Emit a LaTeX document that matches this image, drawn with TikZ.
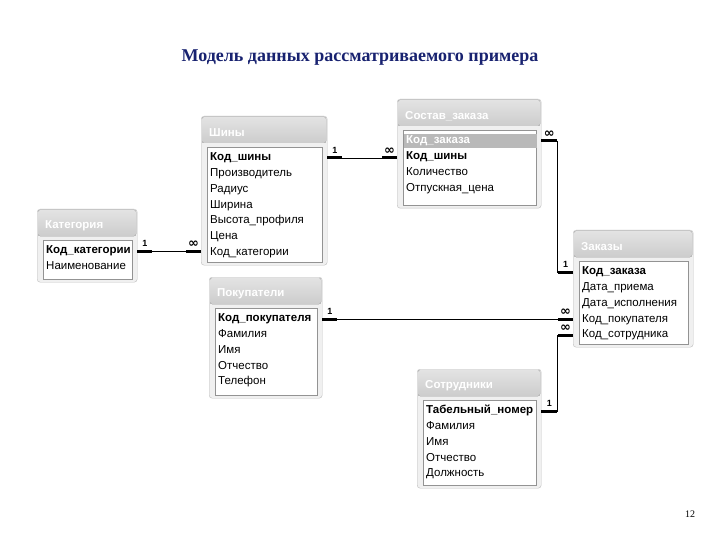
\documentclass[tikz,border=0pt]{standalone}
\usepackage{fontspec}
\setmainfont{Liberation Serif}
\setsansfont{Liberation Sans}
\newfontfamily\symfont{DejaVu Sans}
\usetikzlibrary{positioning, calc}

\definecolor{headblue}{RGB}{24,34,112}
\newcommand\many{{\symfont\bfseries\fontsize{13}{13}\selectfont ∞}}

% one table: name, left, top, width, height, title, fields (id/style/text)
\newcommand\ertable[7]{%
  \node[frame, anchor=north west, minimum width=#4pt, minimum height=#5pt] (#1) at (#2,#3) {};
  \fill[bar] (#2+1,#3+1) rectangle (#2+#4-1,#3+27);
  \node[tabtitle, anchor=west] (#1-title) at (#2+8,#3+17) {#6};
  \draw[listbox] (#2+6,#3+31) rectangle (#2+#4-5,#3+#5-3);
  \foreach \fid/\fsty/\ftext [count=\i from 0] in {#7}
    \node[\fsty, anchor=west] (#1-\fid) at (#2+7,#3+42+15.8*\i) {\ftext};
}

\begin{document}
\begin{tikzpicture}[x=1pt, y=-1pt,
    frame/.style={draw=gray!50, fill=gray!12, rounded corners=3pt},
    bar/.style={top color=gray!22, bottom color=gray!40, rounded corners=2pt},
    listbox/.style={draw=gray!85, fill=white},
    tabtitle/.style={text=white, font=\sffamily\bfseries\fontsize{11.5}{12}\selectfont, inner sep=0pt},
    fld/.style={font=\sffamily\fontsize{11.5}{12}\selectfont, inner xsep=2pt, inner ysep=1pt,
      text height=8.5pt, text depth=3pt},
    key/.style={fld, font=\sffamily\bfseries\fontsize{11.5}{12}\selectfont},
    hl/.style={key, fill=gray!55, text=white, text width=129pt},
    lnk/.style={draw=black, line width=0.9pt},
    stub/.style={draw=black, line width=3pt},
    card/.style={font=\sffamily\bfseries\fontsize{9}{9}\selectfont, inner sep=1pt},
]
\fill[white] (0,0) rectangle (720,540);
\useasboundingbox (0,0) rectangle (720,540);

\node[font=\bfseries\fontsize{18}{20}\selectfont, text=headblue] (heading) at (360,58)
  {Модель данных рассматриваемого примера};

\ertable{kategoriya}{37}{209}{100}{73}{Категория}
  {kod/key/Код\_категории, naim/fld/Наименование}
\ertable{shiny}{201}{116}{126}{149}{Шины}
  {kod/key/Код\_шины, proizv/fld/Производитель, radius/fld/Радиус,
   shir/fld/Ширина, vys/fld/Высота\_профиля, cena/fld/Цена, kodkat/fld/Код\_категории}
\ertable{sostav}{397}{99}{144}{109}{Состав\_заказа}
  {kodzak/hl/Код\_заказа, kodsh/key/Код\_шины, kol/fld/Количество, otp/fld/Отпускная\_цена}
\ertable{pokupateli}{209}{277}{113}{121}{Покупатели}
  {kod/key/Код\_покупателя, fam/fld/Фамилия, imya/fld/Имя, otch/fld/Отчество, tel/fld/Телефон}
\ertable{zakazy}{573}{230}{120}{117}{Заказы}
  {kodzak/key/Код\_заказа, priem/fld/Дата\_приема, ispoln/fld/Дата\_исполнения,
   kodpok/fld/Код\_покупателя, kodsotr/fld/Код\_сотрудника}
\ertable{sotrudniki}{417}{369}{124}{119}{Сотрудники}
  {tab/key/Табельный\_номер, fam/fld/Фамилия, imya/fld/Имя, otch/fld/Отчество, dolzh/fld/Должность}

% Категория -- Шины
\draw[lnk] (kategoriya.east |- kategoriya-kod) -- (shiny.west |- kategoriya-kod);
\draw[stub] (kategoriya.east |- kategoriya-kod) -- ++(15,0) node[card, midway, above=2pt] {1};
\draw[stub] (shiny.west |- kategoriya-kod) -- ++(-15,0) node[card, midway, above=1pt] {\many};

% Шины -- Состав_заказа
\draw[lnk] (shiny.east |- shiny-kod) -- (sostav.west |- shiny-kod);
\draw[stub] (shiny.east |- shiny-kod) -- ++(15,0) node[card, midway, above=2pt] {1};
\draw[stub] (sostav.west |- shiny-kod) -- ++(-15,0) node[card, midway, above=1pt] {\many};

% Состав_заказа -- Заказы
\draw[lnk] (sostav.east |- sostav-kodzak) -- ++(16,0) |- (zakazy.west |- zakazy-kodzak);
\draw[stub] (sostav.east |- sostav-kodzak) -- ++(16,0) node[card, midway, above=1pt] {\many};
\draw[stub] (zakazy.west |- zakazy-kodzak) -- ++(-15,0) node[card, midway, above=2pt] {1};

% Покупатели -- Заказы
\draw[lnk] (pokupateli.east |- pokupateli-kod) -- (zakazy.west |- pokupateli-kod);
\draw[stub] (pokupateli.east |- pokupateli-kod) -- ++(15,0) node[card, midway, above=2pt] {1};
\draw[stub] (zakazy.west |- pokupateli-kod) -- ++(-15,0) node[card, midway, above=1pt] {\many};

% Сотрудники -- Заказы
\draw[lnk] (sotrudniki.east |- sotrudniki-tab) -- ++(16,0) |- (zakazy.west |- zakazy-kodsotr);
\draw[stub] (sotrudniki.east |- sotrudniki-tab) -- ++(16,0) node[card, midway, above=2pt] {1};
\draw[stub] (zakazy.west |- zakazy-kodsotr) -- ++(-15,0) node[card, midway, above=1pt] {\many};

\node[font=\fontsize{10}{12}\selectfont] (pagenum) at (690,514) {12};
\end{tikzpicture}
\end{document}
